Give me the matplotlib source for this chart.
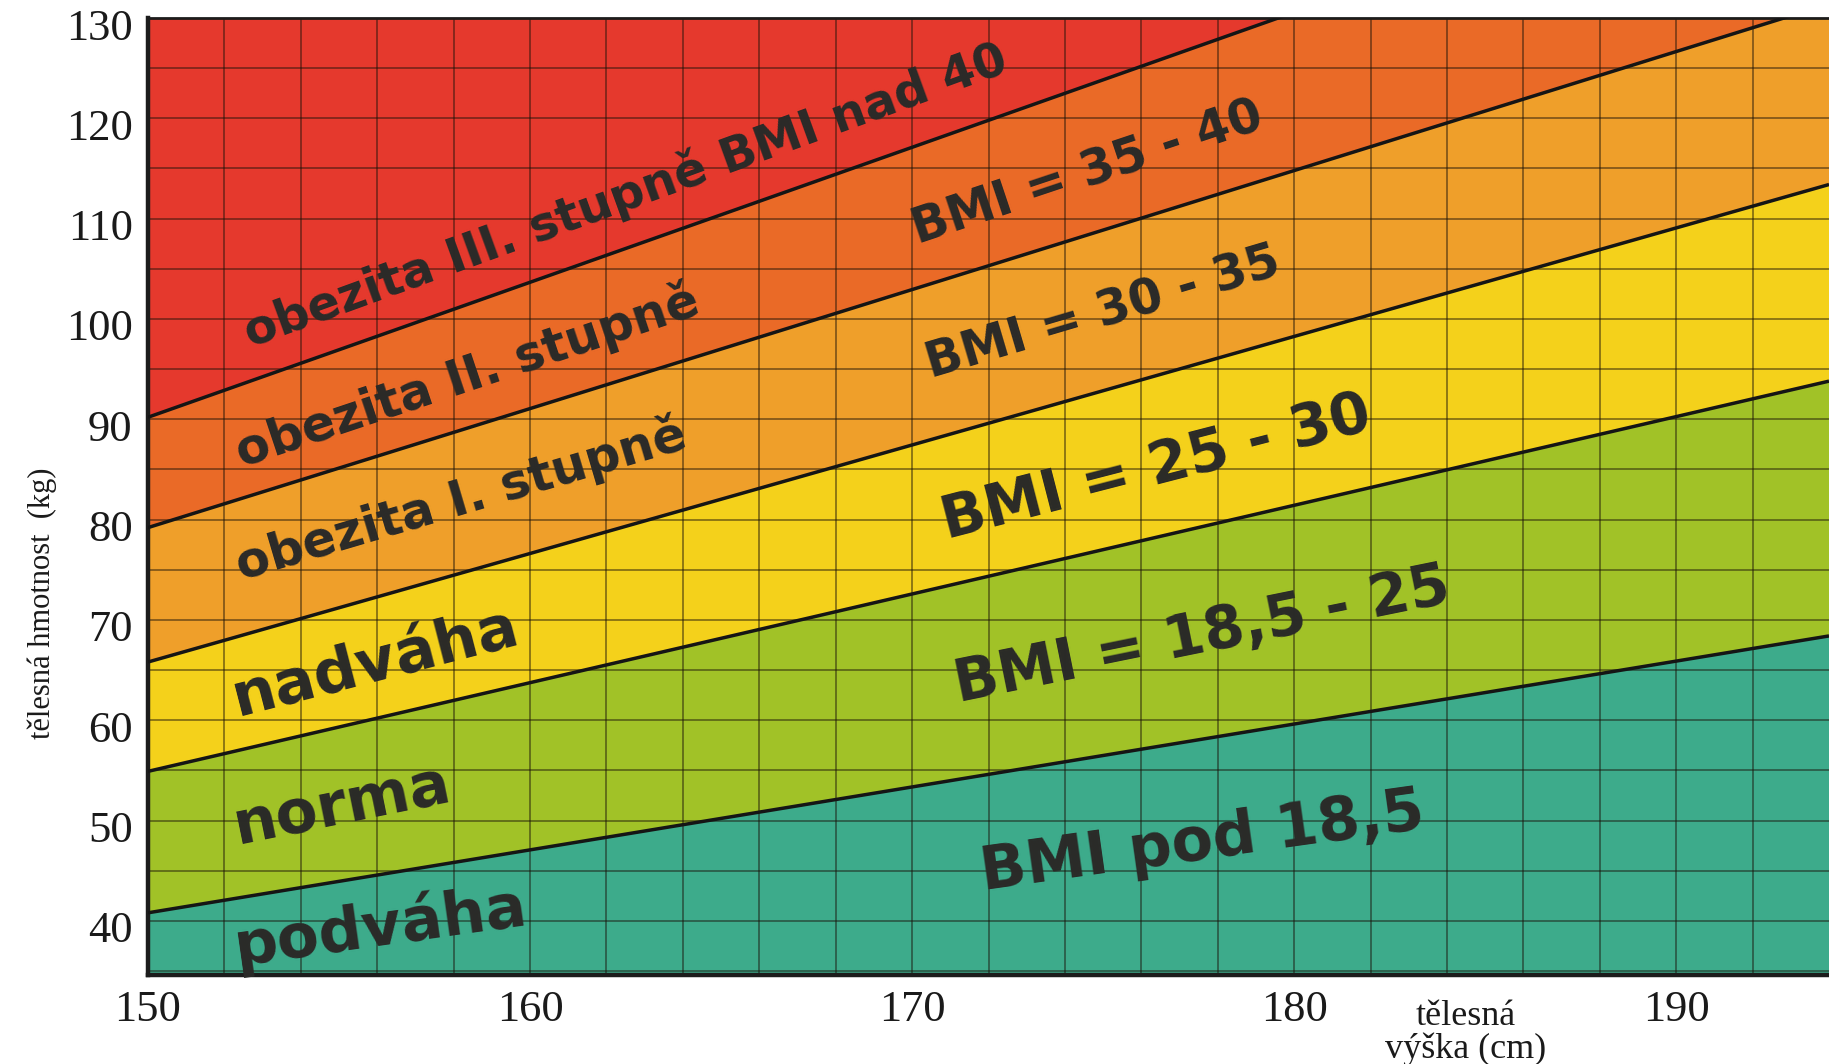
import matplotlib
matplotlib.use("Agg")
import matplotlib.pyplot as plt
import matplotlib.transforms as mtransforms
import numpy as np

# ---- data ----
heights_cm = [150, 194]                       # x range of the chart (cm)
# weights (kg) of the BMI boundary lines at 150 cm and at 194 cm
bound_w_150 = [40.8, 54.9, 65.8, 79.2, 90.2]  # BMI 18.5, 25, 30, 35, 40
bound_w_194 = [68.4, 93.8, 113.4, 131.4, 149.4]
x_ticks = [150, 160, 170, 180, 190]
y_ticks = [40, 50, 60, 70, 80, 90, 100, 110, 120, 130]
x_lim = [150, 194]
y_lim = [34.6, 130]

band_colors = ["#3dab8b", "#a1c227", "#f4d11b", "#ef9f2a", "#ea6a27", "#e5392d"]

zone_labels = ["podváha", "norma", "nadváha", "obezita I. stupně",
               "obezita II. stupně", "obezita III. stupně BMI nad 40"]
zone_x = [156.1, 155.1, 155.97, 158.2, 158.35, 162.5]
zone_y = [39.4, 51.5, 65.7, 82.0, 94.3, 112.3]
zone_rot = [8, 11.5, 14.5, 16.5, 18.5, 20]
zone_size = [44, 44, 44, 35.5, 35.5, 34.5]

bmi_labels = ["BMI pod 18,5", "BMI = 18,5 - 25", "BMI = 25 - 30",
              "BMI = 30 - 35", "BMI = 35 - 40"]
bmi_x = [177.6, 177.6, 176.4, 175.0, 174.6]
bmi_y = [47.8, 68.4, 85.2, 100.6, 114.5]
bmi_rot = [8, 11.5, 14.5, 16.5, 18.5]
bmi_size = [43.5, 42, 42, 35, 35]

# ---- figure ----
W, H = 1829, 1064
fig = plt.figure(figsize=(W / 100, H / 100), dpi=100)
fig.patch.set_facecolor("white")
ax = fig.add_axes([148 / W, (H - 975) / H, (W - 148) / W, (975 - 18) / H])
ax.set_xlim(x_lim)
ax.set_ylim(y_lim)

hx = np.array(heights_cm, dtype=float)
bounds = [np.array([a, b], dtype=float) for a, b in zip(bound_w_150, bound_w_194)]
lower_edges = [np.full(2, y_lim[0])] + bounds
upper_edges = bounds + [np.full(2, 300.0)]
for lo, hi, c in zip(lower_edges, upper_edges, band_colors):
    ax.fill_between(hx, lo, hi, color=c, lw=0, zorder=1)

# grid
for gx in np.arange(152, 194, 2):
    ax.axvline(gx, color="#1a1208", alpha=0.55, lw=1.2, zorder=2)
for gy in np.arange(35, 130, 5):
    ax.axhline(gy, color="#1a1208", alpha=0.55, lw=1.2, zorder=2)

for b in bounds:
    ax.plot(hx, b, color="#151515", lw=2.5, zorder=3, solid_capstyle="butt")

txtc = "#2a2a28"
for s, x, y, r, fs in zip(zone_labels, zone_x, zone_y, zone_rot, zone_size):
    ax.text(x, y, s, rotation=r, rotation_mode="anchor", ha="center", va="center",
            fontsize=fs, fontweight="bold", family="DejaVu Sans", color=txtc, zorder=4)
for s, x, y, r, fs in zip(bmi_labels, bmi_x, bmi_y, bmi_rot, bmi_size):
    ax.text(x, y, s, rotation=r, rotation_mode="anchor", ha="center", va="center",
            fontsize=fs, fontweight="bold", family="DejaVu Sans", color=txtc, zorder=4)

# axes styling
ax.set_xticks(x_ticks)
ax.set_yticks(y_ticks)
ax.tick_params(length=0, labelsize=32, pad=11)
shift = mtransforms.ScaledTranslation(0, -6 / 100, fig.dpi_scale_trans)
for lab in ax.get_yticklabels():
    lab.set_transform(lab.get_transform() + shift)
for lab in ax.get_xticklabels() + ax.get_yticklabels():
    lab.set_family("Liberation Serif")
    lab.set_color("#1a1a1a")
ax.spines["right"].set_visible(False)
ax.spines["left"].set_linewidth(3.2)
ax.spines["bottom"].set_linewidth(3.2)
ax.spines["top"].set_linewidth(2.0)
for sp in ("left", "bottom", "top"):
    ax.spines[sp].set_color("#1c1c1c")

fig.text(42 / W, 1 - 603 / H, "tělesná hmotnost  (kg)", rotation=90, ha="center",
         va="center", fontsize=22, family="Liberation Serif", color="#1a1a1a")
fig.text(1466 / W, 1 - 1033 / H, "tělesná\nvýška (cm)", ha="center", va="center",
         fontsize=26, family="Liberation Serif", color="#1a1a1a", linespacing=0.95)

fig.savefig("out.png", dpi=100)
